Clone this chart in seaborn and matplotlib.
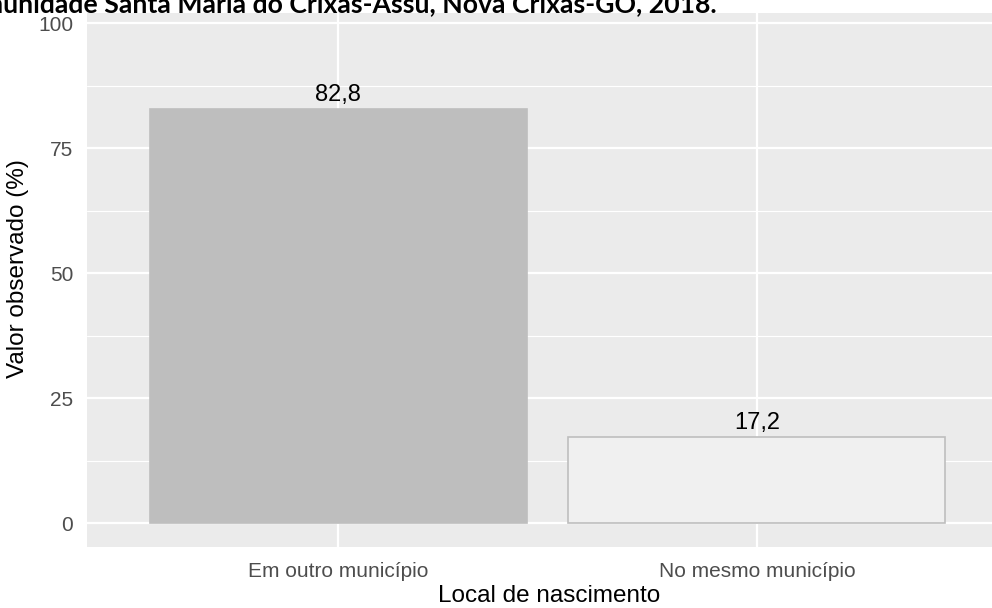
import matplotlib
matplotlib.use("Agg")
import matplotlib.pyplot as plt
import seaborn as sns
import pandas as pd
from matplotlib.ticker import MultipleLocator

# Data
locais = ["Em outro município", "No mesmo município"]
valores = [82.8, 17.2]
rotulos = ["82,8", "17,2"]
cores = ["#BEBEBE", "#F0F0F0"]
titulo = "Comunidade Santa Maria do Crixás-Assú, Nova Crixás-GO, 2018."

df = pd.DataFrame({"local": locais, "valor": valores})

sns.set_theme(style="darkgrid")
plt.rcParams["font.family"] = ["Liberation Sans", "DejaVu Sans"]

W, H = 992, 608
fig = plt.figure(figsize=(W / 100, H / 100), dpi=100)
fig.patch.set_facecolor("white")

# panel is cropped on the right in the original picture
left, right, top, bottom = 87, 1008, 13, 546.7
ax = fig.add_axes([left / W, 1 - bottom / H, (right - left) / W, (bottom - top) / H])
ax.set_facecolor("#EBEBEB")

sns.barplot(data=df, x="local", y="valor", hue="local", palette=cores,
            width=0.9, legend=False, ax=ax, zorder=3)
for patch in ax.patches:
    patch.set_edgecolor("#BEBEBE")
    patch.set_linewidth(1.2)

for i, (v, lab) in enumerate(zip(valores, rotulos)):
    ax.annotate(lab, (i, v), xytext=(0, 6), textcoords="offset points",
                ha="center", va="baseline", fontsize=17, color="black", zorder=4)

ax.set_xlim(-0.6, 1.6)
ax.set_ylim(-4.7, 102)
ax.yaxis.set_major_locator(MultipleLocator(25))
ax.yaxis.set_minor_locator(MultipleLocator(12.5))
ax.grid(which="major", color="white", linewidth=1.6, zorder=0)
ax.grid(which="minor", axis="y", color="white", linewidth=0.8, zorder=0)
ax.set_axisbelow(True)
for s in ax.spines.values():
    s.set_visible(False)

ax.tick_params(axis="both", which="major", length=5, width=1, color="#333333",
               labelcolor="#4D4D4D", labelsize=15, pad=5)
ax.tick_params(which="minor", length=0)
ax.tick_params(axis="x", pad=6)

ax.set_xlabel("Local de nascimento", fontsize=17.5, color="black")
ax.set_ylabel("Valor observado (%)", fontsize=17.5, color="black")
ax.xaxis.set_label_coords((549 - left) / (right - left), -0.072)
ax.yaxis.set_label_coords((29 - left) / (right - left), (bottom - 269) / (bottom - top))

# title, cut off at the top and left in the original
fig.text(717 / W, 1 - 12 / H, titulo, ha="right", va="baseline",
         fontsize=19.2, fontweight="bold", family=["Lato", "DejaVu Sans"], color="black")

fig.savefig("out.png", dpi=100)
